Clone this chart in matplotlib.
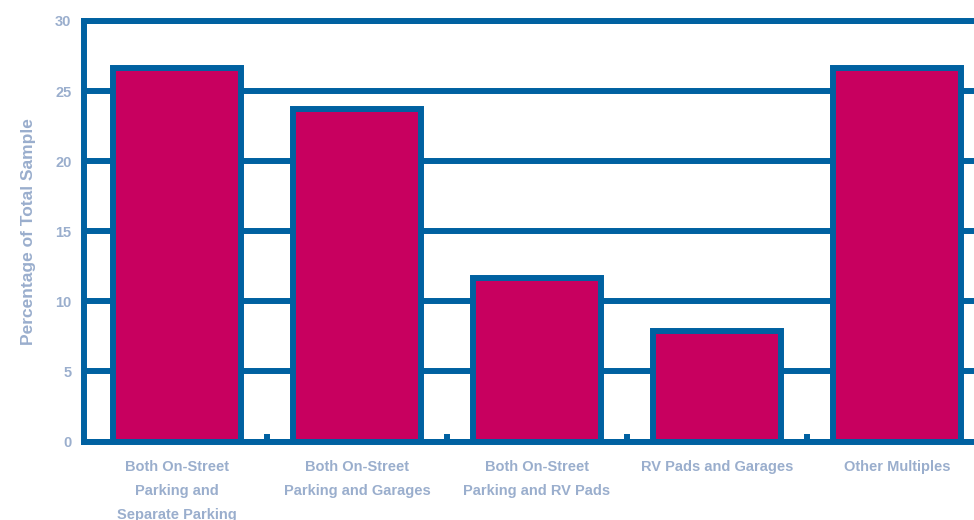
import matplotlib
matplotlib.use('Agg')
import matplotlib.pyplot as plt
import numpy as np

categories = [
    'Both On-Street\nParking and\nSeparate Parking',
    'Both On-Street\nParking and Garages',
    'Both On-Street\nParking and RV Pads',
    'RV Pads and Garages',
    'Other Multiples',
]
values = [26.65, 23.7, 11.65, 7.9, 26.65]
y_ticks = [0, 5, 10, 15, 20, 25, 30]
y_label = 'Percentage of Total Sample'

blue = '#0061a1'
magenta = '#c8005f'
text_color = '#9aaecd'
lw = 4.3  # roughly 6 px at 100 dpi

fig = plt.figure(figsize=(9.74, 5.2), dpi=100)
# right edge of the axes runs slightly past the figure
ax = fig.add_axes([84 / 974, 78.5 / 520, (990 - 84) / 974, 420.5 / 520])

x = np.arange(len(categories))
ax.bar(x, values, width=0.711, color=magenta, edgecolor=blue, linewidth=lw, zorder=2)

ax.set_xlim(-0.517, len(categories) - 0.483)
ax.set_ylim(0, 30)
ax.set_yticks(y_ticks)
ax.set_yticklabels([str(t) for t in y_ticks], fontsize=10.5, color=text_color,
                   family='Liberation Sans', fontweight='bold')
ax.yaxis.grid(True, color=blue, linewidth=lw, zorder=0)
ax.set_axisbelow(True)

ax.set_xticks(x)
ax.set_xticklabels(categories, fontsize=10.5, color=text_color, family='Liberation Sans',
                   fontweight='bold', linespacing=1.95, va='top')
ax.set_xticks(x[:-1] + 0.5, minor=True)
ax.tick_params(axis='x', which='major', length=0, pad=13)
ax.tick_params(axis='x', which='minor', direction='in', length=5.5, width=lw, color=blue)
ax.tick_params(axis='y', length=0, pad=9)

for side in ['left', 'top', 'bottom']:
    ax.spines[side].set_color(blue)
    ax.spines[side].set_linewidth(lw)
ax.spines['right'].set_visible(False)

ax.set_ylabel(y_label, fontsize=12.5, color=text_color, family='Liberation Sans',
              fontweight='bold', labelpad=14)

fig.savefig('out.png', dpi=100)
